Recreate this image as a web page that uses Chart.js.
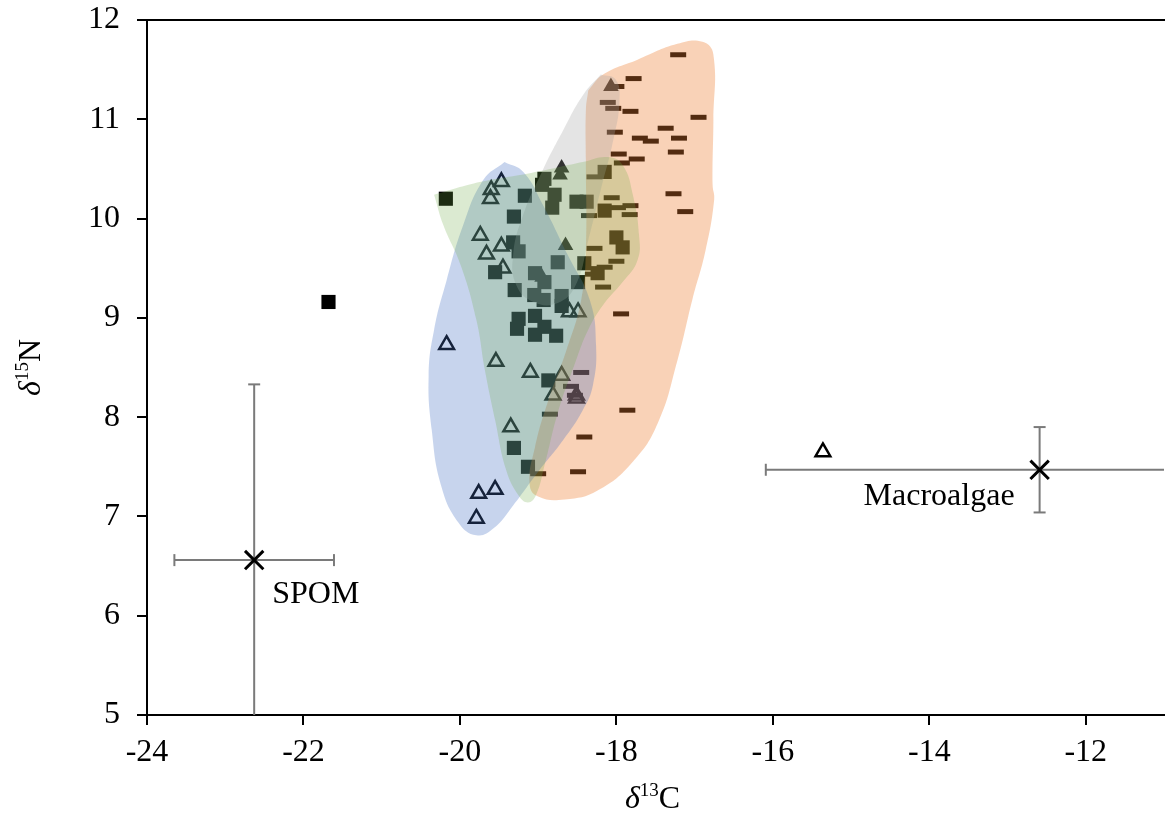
<!DOCTYPE html>
<html><head><meta charset="utf-8">
<script src="https://cdn.jsdelivr.net/npm/chart.js@4.4.1/dist/chart.umd.min.js"></script>
<style>
html,body{margin:0;padding:0;overflow:hidden;background:#fff;}
#wrap{position:relative;width:1180px;height:814px;}
</style></head><body>
<div id="wrap"><canvas id="c"></canvas></div>
<script>
// ---- tick labels ----
const xTicks = [-24, -22, -20, -18, -16, -14, -12];
const yTicks = [5, 6, 7, 8, 9, 10, 11, 12];

// ---- consumer groups: [δ13C, δ15N] ----
const openTriangles = [[-19.47,10.37],[-19.60,10.29],[-19.61,10.20],[-19.74,9.83],[-19.47,9.72],[-19.66,9.64],[-19.45,9.50],[-18.60,9.06],[-18.49,9.06],[-20.17,8.73],[-19.54,8.56],[-19.10,8.45],[-18.70,8.42],[-18.81,8.22],[-18.51,8.22],[-18.51,8.19],[-19.35,7.90],[-19.76,7.23],[-19.55,7.27],[-19.79,6.98],[-15.36,7.65]];
const filledSquares = [[-21.68,9.16],[-20.18,10.20],[-18.92,10.40],[-18.95,10.34],[-19.17,10.23],[-18.79,10.24],[-18.82,10.11],[-18.51,10.17],[-18.38,10.17],[-18.15,10.47],[-18.15,10.08],[-19.31,10.02],[-19.32,9.76],[-19.25,9.67],[-19.55,9.46],[-18.75,9.56],[-18.41,9.55],[-18.00,9.81],[-17.92,9.71],[-18.24,9.45],[-19.04,9.45],[-18.92,9.36],[-18.49,9.36],[-19.30,9.28],[-19.05,9.23],[-18.93,9.18],[-18.70,9.22],[-18.70,9.12],[-19.25,8.99],[-19.27,8.89],[-19.04,9.02],[-19.04,8.83],[-18.92,8.91],[-18.77,8.82],[-18.87,8.37],[-19.31,7.69],[-19.13,7.50]];
const filledTriangles = [[-18.07,11.33],[-18.70,10.51],[-18.72,10.44],[-18.65,9.73],[-18.95,9.41]];
const dashes = [[-17.21,11.65],[-17.78,11.41],[-18.00,11.33],[-18.11,11.17],[-18.04,11.11],[-17.82,11.08],[-16.95,11.02],[-17.37,10.91],[-18.02,10.87],[-17.70,10.81],[-17.56,10.78],[-17.20,10.81],[-17.24,10.67],[-17.97,10.65],[-17.74,10.60],[-17.93,10.56],[-18.28,10.42],[-17.27,10.25],[-18.06,10.21],[-17.82,10.13],[-17.98,10.11],[-17.12,10.07],[-18.35,10.03],[-17.83,10.04],[-18.28,9.70],[-18.00,9.57],[-18.15,9.51],[-18.30,9.44],[-18.17,9.31],[-17.94,9.04],[-18.45,8.45],[-18.58,8.31],[-18.53,8.22],[-18.85,8.03],[-17.86,8.07],[-18.41,7.80],[-19.00,7.43],[-18.49,7.45]];

// ---- group outlines (hulls) ----
const blueHull = [[-19.43,10.57],[-19.19,10.47],[-18.94,10.14],[-18.62,9.63],[-18.34,9.18],[-18.26,8.73],[-18.30,8.32],[-18.43,8.07],[-18.68,7.77],[-19.00,7.45],[-19.32,7.11],[-19.57,6.88],[-19.79,6.81],[-20.02,6.94],[-20.24,7.31],[-20.36,7.87],[-20.40,8.42],[-20.33,8.88],[-20.17,9.38],[-19.96,9.93],[-19.70,10.39]];
const greenHull = [[-20.33,10.24],[-19.73,10.37],[-19.09,10.46],[-18.43,10.57],[-18.11,10.62],[-17.92,10.54],[-17.79,10.24],[-17.71,9.83],[-17.73,9.58],[-17.92,9.36],[-18.17,9.13],[-18.36,8.88],[-18.53,8.54],[-18.75,8.04],[-18.91,7.54],[-19.03,7.21],[-19.13,7.14],[-19.25,7.21],[-19.41,7.47],[-19.55,7.97],[-19.68,8.47],[-19.79,8.98],[-19.99,9.53],[-20.21,9.93]];
const grayHull = [[-18.20,11.45],[-18.01,11.40],[-17.96,11.19],[-18.04,10.79],[-18.20,10.29],[-18.36,9.78],[-18.52,9.33],[-18.75,9.15],[-19.06,9.16],[-19.28,9.33],[-19.32,9.63],[-19.19,10.04],[-18.94,10.49],[-18.68,10.89],[-18.43,11.24]];
const orangeHull = [[-18.36,11.29],[-18.17,11.45],[-17.73,11.60],[-17.22,11.76],[-16.90,11.78],[-16.76,11.65],[-16.76,10.99],[-16.77,10.34],[-16.75,10.19],[-16.86,9.68],[-17.03,9.18],[-17.22,8.57],[-17.47,7.94],[-17.79,7.55],[-18.24,7.26],[-18.66,7.17],[-19.00,7.20],[-19.11,7.33],[-19.04,7.70],[-18.87,8.17],[-18.64,8.67],[-18.45,9.18],[-18.39,9.68],[-18.39,10.59],[-18.39,11.09]];

// ---- sources (mean ± SD) ----
const sourceNames = ['SPOM', 'Macroalgae'];
const sourceMeanC = [-22.63, -12.59];
const sourceMeanN = [6.56, 7.47];
const sourceSdC = [1.02, 3.50];
const sourceSdN = [1.77, 0.43];

const FONT = '"Liberation Serif", "Times New Roman", serif';
const toXY = a => a.map(p => ({x: p[0], y: p[1]}));
const closed = a => toXY(a.concat([a[0]]));

const hullStyle = (pts, color) => ({
  type: 'line', data: closed(pts), fill: 'shape', backgroundColor: color,
  borderWidth: 0, pointRadius: 0, tension: 0.45, order: 0
});

const datasets = [
  hullStyle(greenHull, 'rgba(112,173,71,0.25)'),
  hullStyle(blueHull, 'rgba(68,114,196,0.30)'),
  hullStyle(grayHull, 'rgba(165,165,165,0.30)'),
  hullStyle(orangeHull, 'rgba(237,125,49,0.35)'),
  {type:'scatter', data: toXY(openTriangles), pointStyle:'triangle', pointRadius:8.5, pointBorderWidth:2.5, pointBorderColor:'#000', pointBackgroundColor:'rgba(0,0,0,0)', order:1},
  {type:'scatter', data: toXY(filledSquares), pointStyle:'rect', pointRadius:10, pointBorderWidth:0, pointBackgroundColor:'#000', order:1},
  {type:'scatter', data: toXY(filledTriangles), pointStyle:'triangle', pointRadius:9, pointBorderWidth:0, pointBackgroundColor:'#000', order:1},
  {type:'scatter', data: toXY(dashes), pointStyle:'line', pointRadius:8, pointBorderWidth:5, pointBorderColor:'#000', order:1},
];
sourceNames.forEach((n, i) => {
  const mx = sourceMeanC[i], my = sourceMeanN[i];
  datasets.push({type:'line', data:[{x:mx - sourceSdC[i], y:my},{x:mx + sourceSdC[i], y:my}], borderColor:'#7a7a7a', borderWidth:2, tension:0,
    pointStyle:'line', pointRadius:6, pointBorderWidth:2, pointBorderColor:'#7a7a7a', pointRotation:90, fill:false, order:2});
  datasets.push({type:'line', data:[{x:mx, y:my - sourceSdN[i]},{x:mx, y:my + sourceSdN[i]}], borderColor:'#7a7a7a', borderWidth:2, tension:0,
    pointStyle:'line', pointRadius:6, pointBorderWidth:2, pointBorderColor:'#7a7a7a', pointRotation:0, fill:false, order:2});
});
datasets.push({type:'scatter', data: sourceNames.map((n,i)=>({x:sourceMeanC[i], y:sourceMeanN[i]})), pointStyle:'crossRot', pointRadius:13, pointBorderWidth:3, pointBorderColor:'#000', order:0});

const labelOffsets = [{dx:18, dy:43, align:'left'}, {dx:-25, dy:35, align:'right'}];

function drawParts(ctx, parts) {
  let w = 0;
  parts.forEach(p => { ctx.font = p.font; p.w = ctx.measureText(p.t).width; w += p.w; });
  let x = -w / 2;
  parts.forEach(p => { ctx.font = p.font; ctx.fillText(p.t, x, p.dy); x += p.w; });
}

const textPlugin = {
  id: 'texts',
  afterDraw(chart) {
    const {ctx, scales, chartArea} = chart;
    const xs = scales.x, ys = scales.y;
    ctx.save();
    ctx.fillStyle = '#000';
    ctx.textBaseline = 'alphabetic';
    ctx.font = '32px ' + FONT;
    sourceNames.forEach((name, i) => {
      const px = xs.getPixelForValue(sourceMeanC[i]);
      const py = ys.getPixelForValue(sourceMeanN[i]);
      const o = labelOffsets[i];
      ctx.textAlign = o.align;
      ctx.fillText(name, px + o.dx, py + o.dy);
    });
    ctx.textAlign = 'left';
    ctx.save();
    ctx.translate((chartArea.left + chartArea.right) / 2 - 3, 808);
    drawParts(ctx, [
      {t:'δ', font:'italic 32px ' + FONT, dy:0},
      {t:'13', font:'19px ' + FONT, dy:-12},
      {t:'C', font:'32px ' + FONT, dy:0}
    ]);
    ctx.restore();
    ctx.save();
    ctx.translate(40, (chartArea.top + chartArea.bottom) / 2);
    ctx.rotate(-Math.PI / 2);
    drawParts(ctx, [
      {t:'δ', font:'italic 32px ' + FONT, dy:0},
      {t:'15', font:'19px ' + FONT, dy:-12},
      {t:'N', font:'32px ' + FONT, dy:0}
    ]);
    ctx.restore();
    ctx.restore();
  }
};

const zeroPad = s => { s.paddingTop = 0; s.paddingBottom = 0; s.paddingLeft = 0; s.paddingRight = 0; };

new Chart(document.getElementById('c'), {
  type: 'scatter',
  data: { datasets },
  plugins: [textPlugin],
  options: {
    responsive: true, maintainAspectRatio: false, animation: false,
    layout: { padding: { left: 0, top: 20, right: 12, bottom: 0 } },
    plugins: { legend: { display: false }, tooltip: { enabled: false } },
    scales: {
      x: {
        type: 'linear', position: 'bottom', min: -24, max: -11,
        afterBuildTicks: s => { s.ticks = xTicks.map(v => ({value: v})); },
        afterFit: s => { s.height = 99; zeroPad(s); },
        grid: { drawOnChartArea: false, drawTicks: true, tickLength: 10, color: '#000', lineWidth: 2 },
        border: { display: true, color: '#000', width: 2 },
        ticks: { color: '#000', font: { family: FONT, size: 32 }, padding: 8, callback: v => String(v), maxRotation: 0 }
      },
      x2: {
        type: 'linear', position: 'top', min: -24, max: -11,
        afterFit: s => { s.height = 0; zeroPad(s); },
        grid: { display: false, drawTicks: false },
        border: { display: true, color: '#000', width: 2 },
        ticks: { display: false }
      },
      y: {
        type: 'linear', position: 'left', min: 5, max: 12,
        afterBuildTicks: s => { s.ticks = yTicks.map(v => ({value: v})); },
        afterFit: s => { s.width = 147; zeroPad(s); },
        grid: { drawOnChartArea: false, drawTicks: true, tickLength: 10, color: '#000', lineWidth: 2 },
        border: { display: true, color: '#000', width: 2 },
        ticks: { color: '#000', font: { family: FONT, size: 32 }, padding: 17, callback: v => String(v) }
      }
    }
  }
});
</script>
</body></html>
